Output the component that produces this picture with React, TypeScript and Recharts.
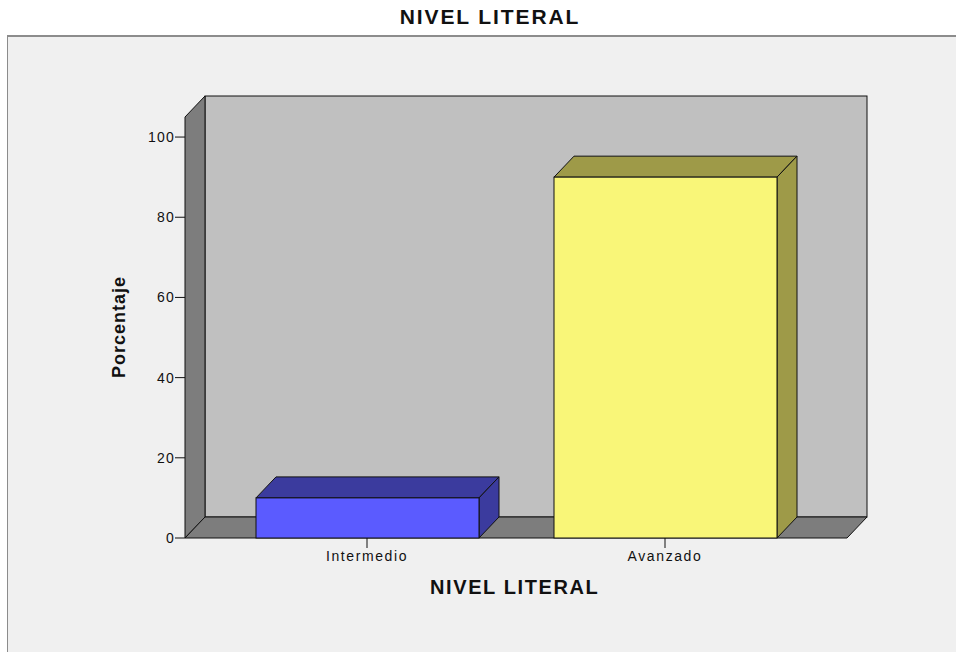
import { Bar, BarChart, ReferenceArea, XAxis, YAxis } from "recharts";

const categories = ["Intermedio", "Avanzado"];
const percentages = [10, 90];
const yTicks = [0, 20, 40, 60, 80, 100];

const FRONT_COLORS = ["#5b5bff", "#f9f678"];
const SIDE_COLORS = ["#3b3b9e", "#9e9a48"];
const DX = 20;
const DY = 21;
const PAD = 33;

const data = categories.map((name, i) => ({ name, value: percentages[i] }));

// reference area only covers the padded band range, so widen it back to the plot edges
const Walls = (props: any) => {
  const x = props.x - PAD;
  const width = props.width + PAD * 2;
  const { y, height } = props;
  const b = y + height;
  const r = x + width;
  return (
    <g stroke="#111" strokeWidth={1}>
      <rect x={x + DX} y={y - DY} width={width} height={height} fill="#c0c0c0" />
      <polygon points={`${x},${y} ${x + DX},${y - DY} ${x + DX},${b - DY} ${x},${b}`} fill="#7d7d7d" />
      <polygon points={`${x},${b} ${x + DX},${b - DY} ${r + DX},${b - DY} ${r},${b}`} fill="#7d7d7d" />
    </g>
  );
};

const Box = (props: any) => {
  const { x, y, width: w, height: h, index } = props;
  const side = SIDE_COLORS[index % SIDE_COLORS.length];
  return (
    <g stroke="#111" strokeWidth={1}>
      <polygon points={`${x},${y} ${x + DX},${y - DY} ${x + w + DX},${y - DY} ${x + w},${y}`} fill={side} />
      <polygon points={`${x + w},${y} ${x + w + DX},${y - DY} ${x + w + DX},${y + h - DY} ${x + w},${y + h}`} fill={side} />
      <rect x={x} y={y} width={w} height={h} fill={FRONT_COLORS[index % FRONT_COLORS.length]} />
    </g>
  );
};

const font = "Liberation Sans, Arial, sans-serif";
const xTickStyle = { fontFamily: font, fontSize: 14, fill: "#111", letterSpacing: 1.6 };
const yTickStyle = { fontFamily: font, fontSize: 14, fill: "#111", letterSpacing: 1.2 };

export default function App() {
  return (
    <div style={{ position: "absolute", left: 0, top: 0, width: 956, height: 652, overflow: "hidden", background: "#fff", fontFamily: font }}>
      <div style={{ position: "absolute", left: 0, top: 5, width: 980, textAlign: "center", fontSize: 21, fontWeight: "bold", letterSpacing: 1.9, color: "#111" }}>
        NIVEL LITERAL
      </div>
      <div style={{ position: "absolute", left: 7, top: 35, width: 960, height: 640, background: "#f0f0f0", borderTop: "2px solid #8c8c8c", borderLeft: "1px solid #8c8c8c" }} />
      <div style={{ position: "absolute", left: 0, top: 0 }}>
        <BarChart width={956} height={652} data={data} margin={{ top: 117, right: 109, bottom: 74, left: 115 }}>
          <ReferenceArea y1={0} y2={105} ifOverflow="visible" shape={<Walls />} />
          <XAxis
            dataKey="name"
            padding={{ left: PAD, right: PAD }}
            axisLine={false}
            tickLine={{ stroke: "#111" }}
            tickSize={10}
            tickMargin={3}
            height={40}
            tick={xTickStyle}
          />
          <YAxis
            type="number"
            domain={[0, 105]}
            ticks={yTicks}
            axisLine={false}
            tickLine={{ stroke: "#111" }}
            tickSize={10}
            tickMargin={0}
            width={70}
            tick={yTickStyle}
          />
          <Bar dataKey="value" barSize={223} shape={<Box />} isAnimationActive={false} />
        </BarChart>
      </div>
      <div style={{ position: "absolute", left: 430, top: 576, fontSize: 20, fontWeight: "bold", letterSpacing: 1.6, color: "#111", whiteSpace: "nowrap" }}>
        NIVEL LITERAL
      </div>
      <div style={{ position: "absolute", left: 119, top: 327, transform: "translate(-50%, -50%) rotate(-90deg)", fontSize: 18, fontWeight: "bold", letterSpacing: 1, color: "#111", whiteSpace: "nowrap" }}>
        Porcentaje
      </div>
    </div>
  );
}
